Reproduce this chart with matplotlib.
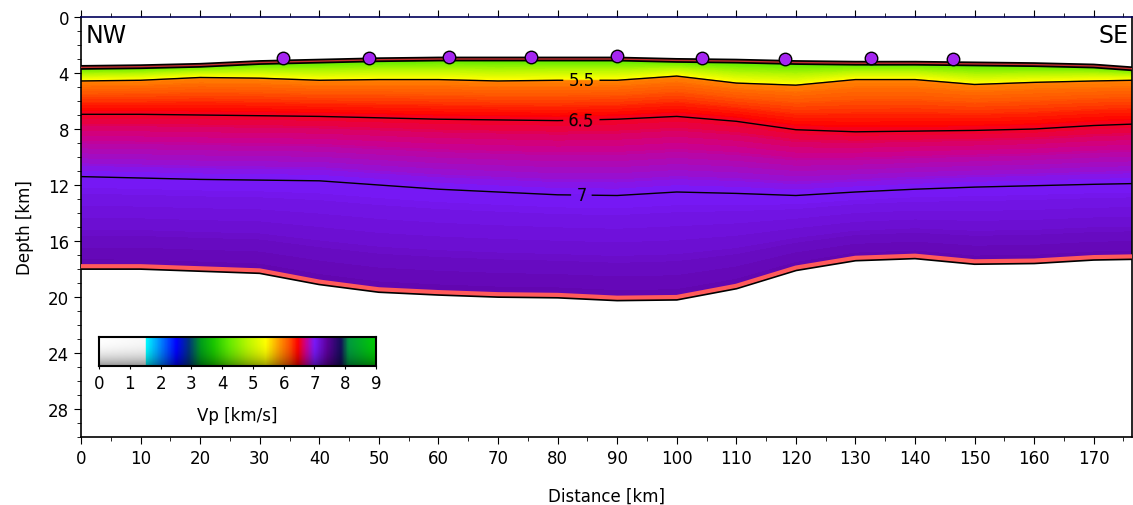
import numpy as np
import matplotlib
matplotlib.use("Agg")
import matplotlib.pyplot as plt
from matplotlib.colors import LinearSegmentedColormap, Normalize

# model nodes along the profile (km)
dist = [0, 10, 20, 30, 40, 50, 60, 70, 80, 90, 100, 110, 120, 130, 140, 150, 160, 170, 176.5]

# interface depths (km)
surface = [3.6, 3.55, 3.45, 3.25, 3.15, 3.05, 3.0, 3.0, 3.0, 3.0, 3.1, 3.15, 3.25, 3.3, 3.3, 3.35, 3.4, 3.5, 3.7]
iso_55 = [4.6, 4.55, 4.35, 4.4, 4.55, 4.5, 4.5, 4.6, 4.55, 4.55, 4.25, 4.75, 4.9, 4.5, 4.5, 4.85, 4.7, 4.6, 4.55]
iso_65 = [6.95, 6.95, 7.0, 7.05, 7.1, 7.2, 7.3, 7.35, 7.4, 7.3, 7.1, 7.45, 8.05, 8.2, 8.15, 8.1, 8.0, 7.75, 7.65]
iso_70 = [11.4, 11.5, 11.6, 11.65, 11.7, 12.0, 12.3, 12.5, 12.7, 12.75, 12.5, 12.6, 12.75, 12.5, 12.3, 12.15, 12.05, 11.95, 11.9]
moho = [17.8, 17.8, 17.95, 18.1, 18.9, 19.45, 19.65, 19.8, 19.85, 20.05, 20.0, 19.2, 17.9, 17.2, 17.05, 17.45, 17.4, 17.15, 17.1]

# velocity (km/s) on each interface, top to bottom
layer_vp = [4.0, 5.4, 5.95, 6.5, 7.0, 7.3]

# stations on the surface
sta_x = [33.9, 48.3, 61.7, 75.5, 89.9, 104.2, 118.1, 132.6, 146.3]
sta_z = [2.95, 2.9, 2.85, 2.85, 2.8, 2.95, 3.0, 2.9, 3.0]

contour_levels = [5.5, 6.5, 7.0]

# colour scale of the original figure
cmap = LinearSegmentedColormap.from_list("vp", [
    (0.0 / 9, (1.0, 1.0, 1.0)),
    (1.49 / 9, (0.97, 0.97, 0.97)),
    (1.5 / 9, (0.0, 1.0, 1.0)),
    (2.0 / 9, (0.0, 0.5, 1.0)),
    (2.5 / 9, (0.0, 0.0, 1.0)),
    (2.9 / 9, (0.0, 0.2, 0.5)),
    (3.3 / 9, (0.0, 0.62, 0.1)),
    (3.7 / 9, (0.1, 0.78, 0.0)),
    (4.2 / 9, (0.38, 0.92, 0.0)),
    (4.8 / 9, (0.72, 0.97, 0.0)),
    (5.4 / 9, (1.0, 1.0, 0.0)),
    (5.9 / 9, (1.0, 0.55, 0.0)),
    (6.2 / 9, (1.0, 0.3, 0.0)),
    (6.45 / 9, (1.0, 0.0, 0.0)),
    (6.7 / 9, (0.8, 0.0, 0.55)),
    (7.0 / 9, (0.47, 0.1, 0.98)),
    (7.4 / 9, (0.36, 0.0, 0.6)),
    (7.85 / 9, (0.08, 0.05, 0.35)),
    (8.1 / 9, (0.0, 0.6, 0.25)),
    (9.0 / 9, (0.0, 0.8, 0.0)),
])
norm = Normalize(0, 9)

fig = plt.figure(figsize=(11.33, 5.06), dpi=100)
ax = fig.add_axes([0.0715, 0.1344, 0.928, 0.83])

# build the layered grid (jump at the 5.5 interface)
d55 = np.array(iso_55)
depths = np.array([surface, d55 - 0.05, d55 + 0.05, iso_65, iso_70, moho])
X = np.tile(np.array(dist), (len(layer_vp), 1))
V = np.tile(np.array(layer_vp)[:, None], (1, len(dist)))

cf = ax.contourf(X, depths, V, levels=np.arange(3.9, 7.51, 0.02), cmap=cmap, norm=norm)
cf.set_edgecolor("face")
cf.set_linewidth(0.4)

cl = ax.contour(X, depths, V, levels=contour_levels, colors="k", linewidths=1)
ax.clabel(cl, fmt={5.5: "5.5", 6.5: "6.5", 7.0: "7"}, fontsize=12,
          manual=[(84, 4.55), (84, 7.4), (84, 12.7)], inline=True)

# surface and moho
ax.plot(dist, surface, color="black", lw=3.5, zorder=4)
ax.plot(dist, surface, color="#c03030", lw=1, zorder=5)
ax.plot(dist, np.array(moho) + 0.12, color="black", lw=3, zorder=4)
ax.plot(dist, moho, color="#ff5a5a", lw=3, zorder=5)

ax.plot(sta_x, sta_z, "o", ms=9, mfc="#a526f0", mec="black", mew=1, zorder=6)

ax.text(0.004, 0.985, "NW", transform=ax.transAxes, fontsize=17, va="top", ha="left")
ax.text(0.996, 0.985, "SE", transform=ax.transAxes, fontsize=17, va="top", ha="right")

ax.set_xlim(0, 176.5)
ax.set_ylim(30, 0)
ax.set_xticks(np.arange(0, 171, 10))
ax.set_xticks(np.arange(0, 177, 5), minor=True)
ax.set_yticks(np.arange(0, 29, 4))
ax.set_yticks(np.arange(0, 31, 1), minor=True)
ax.tick_params(labelsize=12, direction="out", top=True, which="both")
ax.tick_params(which="major", length=5)
ax.tick_params(which="minor", length=3)
ax.set_xlabel("Distance [km]", fontsize=12, labelpad=14)
ax.set_ylabel("Depth [km]", fontsize=12, labelpad=10)
ax.spines["top"].set_color("#00005a")
for s in ax.spines.values():
    s.set_linewidth(1.2)

# colour bar inset
cax = fig.add_axes([0.0874, 0.2747, 0.2445, 0.0573])
vals = np.linspace(0, 9, 600)
shade = 1.0 - 0.4 * np.linspace(0, 1, 40) ** 2.5
rgb = cmap(norm(vals))[None, :, :3] * shade[:, None, None]
cax.imshow(rgb, extent=[0, 9, 0, 1], aspect="auto", origin="upper")
cax.set_xticks(range(10))
cax.set_yticks([])
cax.tick_params(labelsize=12, length=2)
cax.set_xlabel("Vp [km/s]", fontsize=12, labelpad=10)
for s in cax.spines.values():
    s.set_linewidth(1.5)

fig.savefig("out.png", dpi=100)
